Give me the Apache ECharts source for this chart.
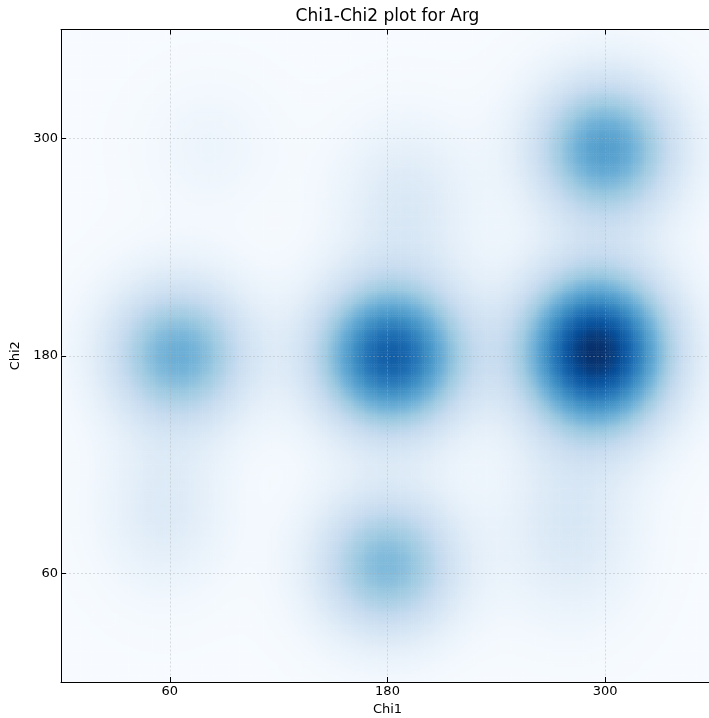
<!DOCTYPE html>
<html><head><meta charset="utf-8">
<script src="https://cdn.jsdelivr.net/npm/echarts@6/dist/echarts.min.js"></script>
<style>html,body{margin:0;padding:0;background:#fff;overflow:hidden}#c{width:709px;height:718px}</style>
</head><body><div id="c"></div>
<script>
// ---- data ----
const chartTitle = 'Chi1-Chi2 plot for Arg';
const xName = 'Chi1';
const yName = 'Chi2';
const xTicks = [60, 180, 300];
const yTicks = [60, 180, 300];
// density modes (rotamer clusters): centre (deg), relative peak height, spread (deg)
const peakChi1    = [65, 182, 295, 300, 180, 57, 190, 281, 82];
const peakChi2    = [181, 180, 182, 294, 65, 95, 265, 85, 295];
const peakHeight  = [0.50, 0.82, 1.00, 0.57, 0.45, 0.13, 0.14, 0.15, 0.05];
const peakSpread1 = [27, 28, 28, 27, 27, 24, 26, 26, 26];
const peakSpread2 = [27, 28, 30, 27, 27, 30, 30, 34, 26];
const cellStep = 1.2;
const blues = ['#f7fbff','#deebf7','#c6dbef','#9ecae1','#6baed6','#4292c6','#2171b5','#08519c','#08306b'];

// ---- density grid from the modes ----
const nCells = Math.round(360 / cellStep);
const cellCentres = [];
for (let i = 0; i < nCells; i++) cellCentres.push(+(i * cellStep + cellStep / 2).toFixed(2));
const grid = [];
let maxV = 0;
for (let i = 0; i < nCells; i++) {
  for (let j = 0; j < nCells; j++) {
    const x = cellCentres[i], y = cellCentres[j];
    let v = 0;
    for (let k = 0; k < peakChi1.length; k++) {
      const dx = (x - peakChi1[k]) / peakSpread1[k];
      const dy = (y - peakChi2[k]) / peakSpread2[k];
      v += peakHeight[k] * Math.exp(-0.5 * (dx * dx + dy * dy));
    }
    if (v > maxV) maxV = v;
    grid.push([i, j, v]);
  }
}

const font = 'DejaVu Sans';
const valueAxis = (pos, labels, extra) => Object.assign({
  type: 'value', min: 0, max: 360, position: pos, z: 10,
  axisLine: {show: true, onZero: false, lineStyle: {color: '#000', width: 1}},
  axisTick: {show: true, inside: true, length: 5, customValues: labels.length ? labels : xTicks, lineStyle: {color: '#000'}},
  axisLabel: {show: labels.length > 0, customValues: labels.length ? labels : undefined, color: '#000', fontFamily: font, fontSize: 13, margin: 3},
  splitLine: {show: false}
}, extra || {});

const chart = echarts.init(document.getElementById('c'), null, {renderer: 'canvas'});
chart.setOption({
  animation: false,
  backgroundColor: '#fff',
  title: {text: chartTitle, left: 387.5, textAlign: 'center', top: 8, padding: 0,
    textStyle: {fontFamily: font, fontSize: 17, fontWeight: 'normal', color: '#000'}},
  grid: {left: 61, top: 29.5, width: 653, height: 652.5, show: false, outerBoundsMode: 'none', containLabel: false},
  visualMap: {show: false, min: 0, max: maxV, dimension: 2, seriesIndex: 0, inRange: {color: blues}},
  xAxis: [
    valueAxis('bottom', xTicks, {name: xName, nameLocation: 'middle', nameGap: 20,
      nameTextStyle: {fontFamily: font, fontSize: 13, color: '#000'},
      splitLine: {show: true, lineStyle: {color: 'rgba(170,170,170,0.4)', type: [2, 2], width: 1}}}),
    valueAxis('top', []),
    {type: 'category', data: cellCentres, show: false, gridIndex: 0}
  ],
  yAxis: [
    valueAxis('left', yTicks, {name: yName, nameLocation: 'middle', nameGap: 33,
      nameTextStyle: {fontFamily: font, fontSize: 13, color: '#000'},
      splitLine: {show: true, lineStyle: {color: 'rgba(170,170,170,0.4)', type: [2, 2], width: 1}}}),
    {type: 'category', data: cellCentres, show: false, gridIndex: 0}
  ],
  series: [{
    type: 'heatmap', xAxisIndex: 2, yAxisIndex: 1, data: grid,
    progressive: 0, emphasis: {disabled: true}, itemStyle: {borderWidth: 0}
  }]
});
</script></body></html>
